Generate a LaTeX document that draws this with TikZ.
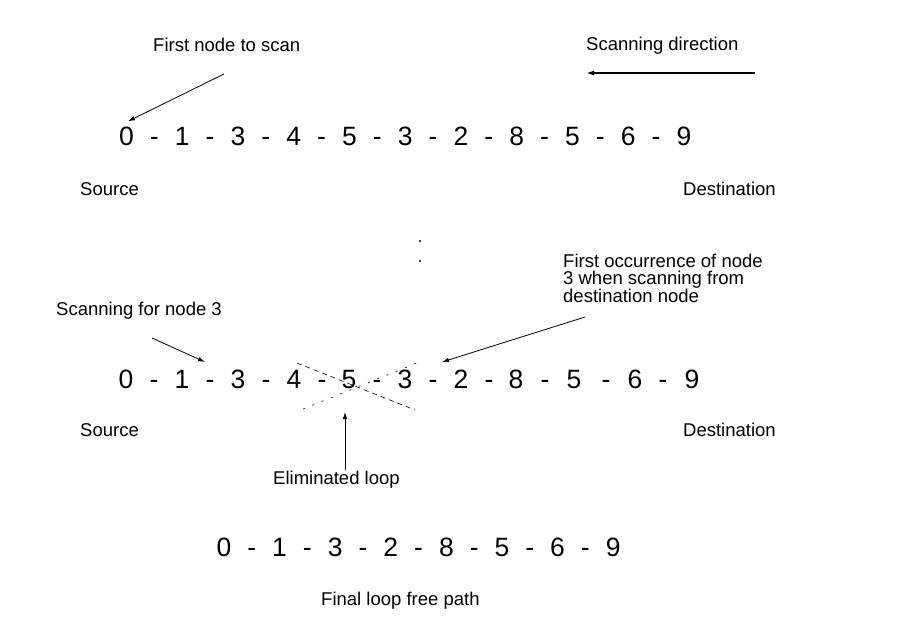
\documentclass[tikz,border=0pt]{standalone}
\usepackage{fontspec}
\setmainfont{Liberation Sans}
\usetikzlibrary{arrows.meta}
\usetikzlibrary{calc}
\def\crossdash{(297,363) -- (415,410)}
\def\crossdot{(303,409) -- (417,363)}
\def\dirarrow{(dirstart) -- (dirend)}

\tikzset{
  lbl/.style={inner sep=0pt,anchor=base west,font=\fontsize{18.5}{17}\selectfont},
  digit/.style={inner sep=0pt,anchor=base,font=\fontsize{26.5}{30}\selectfont},
  arr/.style={-{Latex[length=7pt,width=4.5pt]},line width=0.8pt},
}

\begin{document}
\begin{tikzpicture}[x=1pt,y=-1pt]
\useasboundingbox (0,0) rectangle (909,616);
% path with loop
\foreach \d [count=\i from 0] in {0,1,3,4,5,3,2,8,5,6,9}{
  \node[digit] (top\i) at (126.5+55.75*\i,145) {\d};
}
\foreach \i in {0,...,9}{
  \node[digit] (topdash\i) at (154.4+55.75*\i,145) {-};
}
\node[lbl] (firstscan) at (153,51) {First node to scan};
\node[lbl] (scandir) at (586,50) {Scanning direction};
\node[lbl] (src1) at (80,195) {Source};
\node[lbl] (dst1) at (683,195) {Destination};
\coordinate (firsttail) at (224,74);
\draw[arr] (firsttail) -- ([xshift=1.5pt,yshift=5pt]top0.north);
\coordinate (dirstart) at (755,73);
\coordinate (dirend) at (586,73);
\draw[-{Latex[length=8pt,width=5pt]},line width=1.6pt] \dirarrow;

% dots
\fill (420,241) circle (1.2pt);
\fill (420,261) circle (1.2pt);

% scanning
\foreach \d/\x [count=\i from 0] in {0/126,1/182,3/238,4/294,5/349,3/405,2/461,8/516,5/574,6/635,9/692}{
  \node[digit] (mid\i) at (\x,388) {\d};
}
\foreach \x [count=\i from 0] in {154,210,266,322,377,433,489,545,606,663}{
  \node[digit] (middash\i) at (\x,388) {-};
}
\node[lbl] (scanfor) at (56,315) {Scanning for node 3};
\node[lbl,anchor=north west,align=left] (firstocc) at (563,254) {First occurrence of node\\3 when scanning from\\destination node};
\node[lbl] (src2) at (80,436) {Source};
\node[lbl] (dst2) at (683,436) {Destination};
\node[lbl] (elim) at (273,484) {Eliminated loop};
\coordinate (scanfortail) at (152,338);
\coordinate (scanfortip) at (205,362);
\draw[arr] (scanfortail) -- (scanfortip);
\coordinate (occtail) at (585,317);
\coordinate (occtip) at (442,362);
\draw[arr] (occtail) -- (occtip);
\coordinate (looptip) at (345,412);
\draw[arr] (elim.north -| looptip) -- (looptip);
\draw[dash pattern=on 5pt off 4pt,line width=0.6pt] \crossdash;
\draw[dash pattern=on 2pt off 8pt,line width=0.6pt] \crossdot;

% loop free path
\foreach \d [count=\i from 0] in {0,1,3,2,8,5,6,9}{
  \node[digit] (bot\i) at (224+55.6*\i,556) {\d};
}
\foreach \i in {0,...,6}{
  \node[digit] (botdash\i) at (251.8+55.6*\i,556) {-};
}
\node[lbl] (final) at (321,605) {Final loop free path};
\end{tikzpicture}
\end{document}
